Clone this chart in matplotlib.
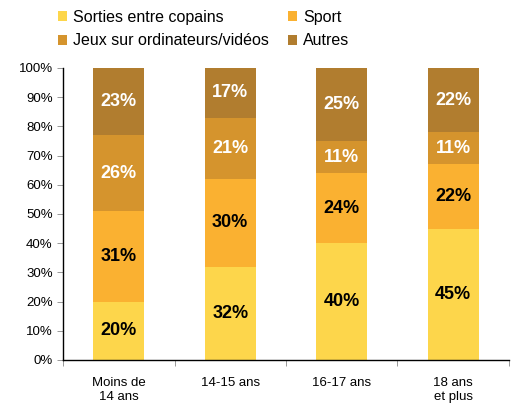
import matplotlib.pyplot as plt
import numpy as np

plt.rcParams['font.family'] = ['Liberation Sans', 'DejaVu Sans']

categories = ['Moins de\n14 ans', '14-15 ans', '16-17 ans', '18 ans\net plus']
series = ['Sorties entre copains', 'Sport', 'Jeux sur ordinateurs/vidéos', 'Autres']
sorties = [20, 32, 40, 45]
sport = [31, 30, 24, 22]
jeux = [26, 21, 11, 11]
autres = [23, 17, 25, 22]

colors = ['#FDD64B', '#FAB131', '#D5942D', '#B17D2F']
label_colors = ['black', 'black', 'white', 'white']

fig = plt.figure(figsize=(5.18, 4.05), dpi=100)
ax = fig.add_axes([63 / 518, 1 - 360 / 405, (509 - 63) / 518, (360 - 68) / 405])

x = np.arange(len(categories))
bottom = np.zeros(len(categories))
handles = []
for vals, name, col, lc in zip([sorties, sport, jeux, autres], series, colors, label_colors):
    bars = ax.bar(x, vals, width=0.46, bottom=bottom, color=col, label=name)
    handles.append(bars)
    for xi, b, v in zip(x, bottom, vals):
        ax.text(xi, b + v / 2, f'{v}%', ha='center', va='center',
                color=lc, fontsize=13, fontweight='bold')
    bottom += vals

ax.set_xlim(-0.5, len(categories) - 0.5)
ax.set_ylim(0, 100)
ax.set_yticks(np.arange(0, 101, 10))
ax.set_yticklabels([f'{v}%' for v in range(0, 101, 10)], fontsize=9.5)
ax.set_xticks(x)
ax.set_xticklabels(categories, fontsize=9.5, linespacing=1.25)
ax.tick_params(axis='x', length=0, pad=12)
ax.set_xticks(np.arange(-0.5, len(categories)), minor=True)
ax.tick_params(axis='x', which='minor', length=4, width=0.6, color='#888888')
ax.tick_params(axis='y', length=4, width=0.6, color='#888888')
ax.spines['top'].set_visible(False)
ax.spines['right'].set_visible(False)
ax.spines['left'].set_linewidth(1)
ax.spines['bottom'].set_linewidth(1)

# legend is filled row by row in the reference
order = [0, 2, 1, 3]
fig.legend(handles=[handles[i] for i in order], labels=[series[i] for i in order],
           ncol=2, loc='upper left',
           bbox_to_anchor=(48 / 518, 1.0), frameon=False, fontsize=11.5,
           handlelength=0.6, handleheight=0.6, handletextpad=0.35,
           columnspacing=1.2, labelspacing=0.55, borderaxespad=0.2)

fig.savefig('out.png', dpi=100)
